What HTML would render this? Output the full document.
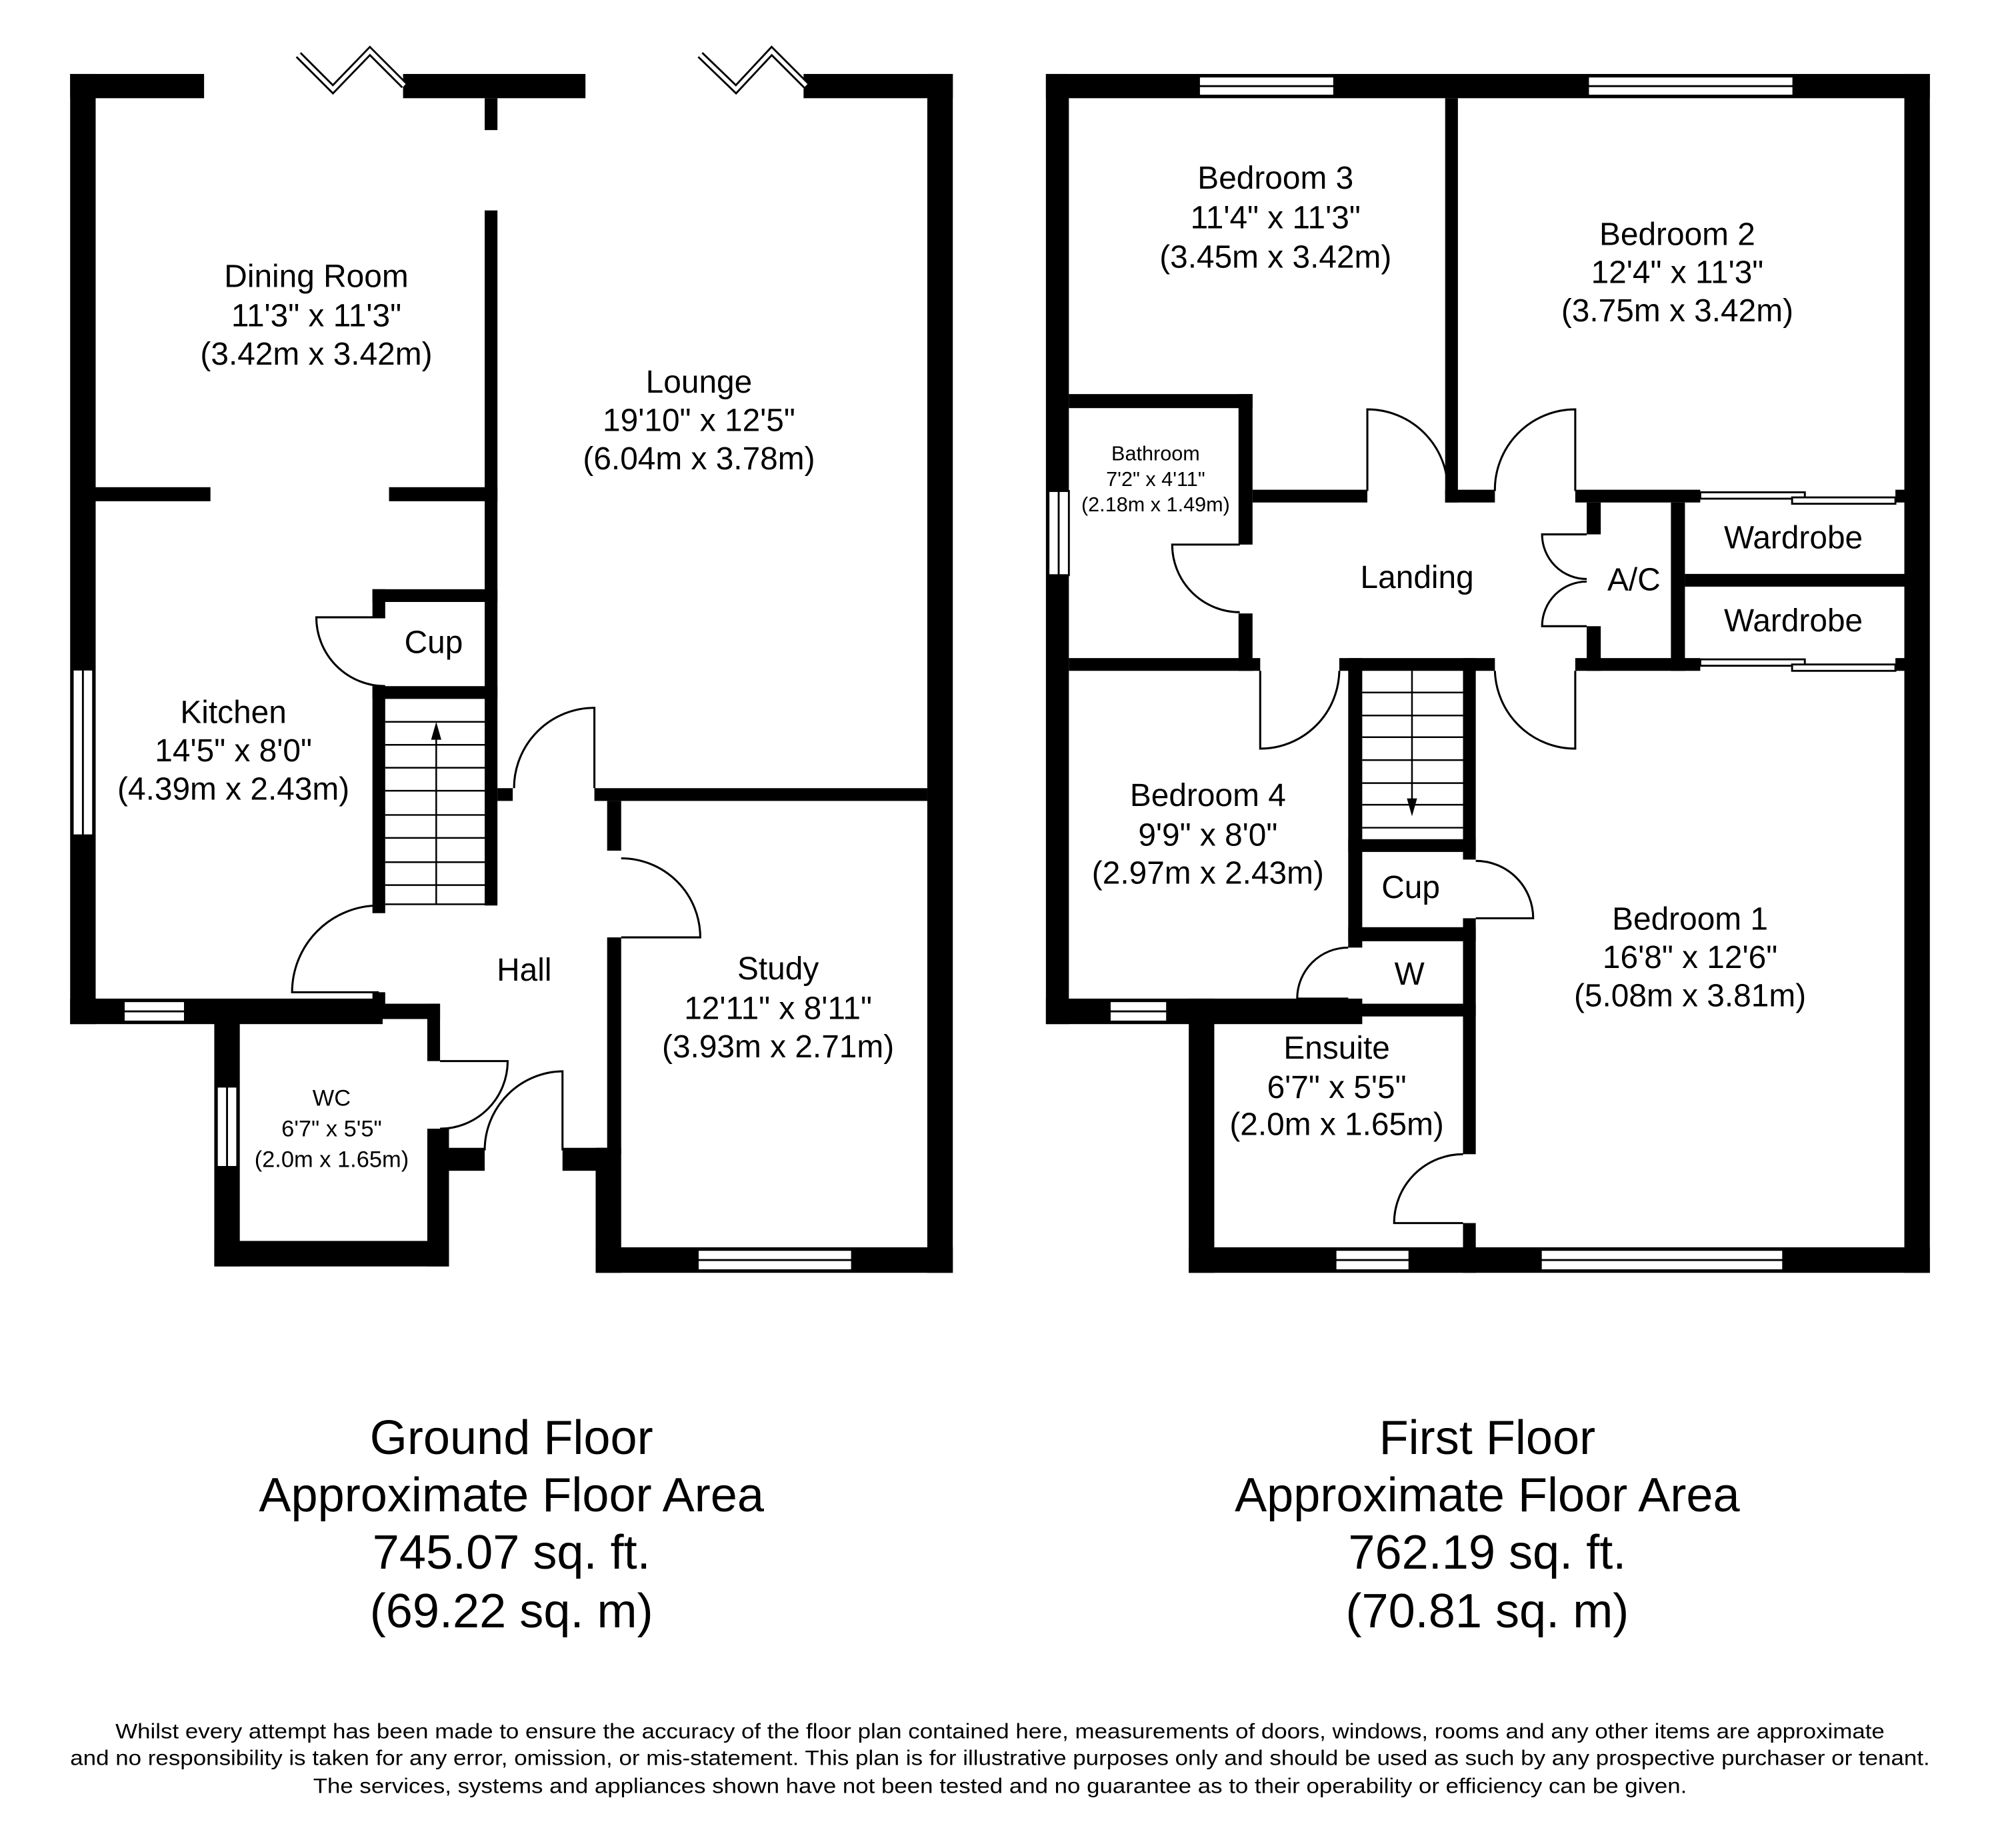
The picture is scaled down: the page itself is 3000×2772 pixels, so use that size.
<!DOCTYPE html>
<html><head><meta charset="utf-8"><style>
html,body{margin:0;padding:0;background:#fff;}
svg{display:block;}
text{font-family:"Liberation Sans",Arial,sans-serif;fill:#000;text-anchor:middle;}
.r{font-size:25px;}
.s{font-size:18px;}
.b{font-size:37.7px;}
.d{font-size:16.5px;}
.w{fill:#fff;stroke:#000;stroke-width:1.5;}
.dr{fill:none;stroke:#000;stroke-width:1.6;}
.st{stroke:#000;stroke-width:1.3;}
</style></head><body>
<svg width="3000" height="2772" viewBox="0 0 1568 1449" preserveAspectRatio="none" xmlns="http://www.w3.org/2000/svg">
<rect x="0" y="0" width="1568" height="1449" fill="#fff"/>
<g fill="#000">
<rect x="55" y="58" width="105" height="19"/>
<rect x="316" y="58" width="143" height="19"/>
<rect x="380" y="77" width="10" height="25"/>
<rect x="630" y="58" width="117" height="19"/>
<rect x="55" y="58" width="20" height="745"/>
<rect x="727" y="58" width="20" height="940"/>
<rect x="380" y="165" width="10" height="545"/>
<rect x="75" y="382" width="90" height="11"/>
<rect x="305" y="382" width="85" height="11"/>
<rect x="292" y="462" width="98" height="10"/>
<rect x="292" y="462" width="10" height="22"/>
<rect x="292" y="538" width="10" height="178"/>
<rect x="292" y="538" width="98" height="10"/>
<rect x="55" y="783" width="245" height="20"/>
<rect x="292" y="778" width="10" height="10"/>
<rect x="168" y="787" width="177" height="12"/>
<rect x="168" y="787" width="20" height="206"/>
<rect x="168" y="973" width="184" height="20"/>
<rect x="335" y="787" width="10" height="45"/>
<rect x="335" y="885" width="17" height="108"/>
<rect x="345" y="900" width="35" height="18"/>
<rect x="441" y="900" width="35" height="18"/>
<rect x="467" y="900" width="20" height="98"/>
<rect x="476" y="628" width="11" height="39"/>
<rect x="476" y="735" width="11" height="170"/>
<rect x="466" y="618" width="261" height="10"/>
<rect x="390" y="618" width="12" height="10"/>
<rect x="467" y="978" width="280" height="20"/>
<rect x="820" y="58" width="693" height="19"/>
<rect x="820" y="58" width="18" height="745"/>
<rect x="1493" y="58" width="20" height="940"/>
<rect x="1133" y="77" width="10" height="317"/>
<rect x="838" y="309" width="144" height="11"/>
<rect x="971" y="309" width="11" height="118"/>
<rect x="971" y="481" width="11" height="45"/>
<rect x="982" y="384" width="90" height="10"/>
<rect x="1133" y="384" width="39" height="10"/>
<rect x="1235" y="384" width="98" height="10"/>
<rect x="1486" y="384" width="7" height="10"/>
<rect x="1244" y="394" width="11" height="25"/>
<rect x="1244" y="491" width="11" height="35"/>
<rect x="1310" y="394" width="11" height="132"/>
<rect x="1321" y="450" width="172" height="10"/>
<rect x="838" y="516" width="150" height="10"/>
<rect x="1050" y="516" width="122" height="10"/>
<rect x="1235" y="516" width="98" height="10"/>
<rect x="1486" y="516" width="7" height="10"/>
<rect x="1057" y="516" width="11" height="227"/>
<rect x="1147" y="516" width="10" height="158"/>
<rect x="1147" y="720" width="10" height="185"/>
<rect x="1147" y="959" width="10" height="39"/>
<rect x="1057" y="658" width="100" height="10"/>
<rect x="1057" y="727" width="100" height="11"/>
<rect x="952" y="787" width="205" height="10"/>
<rect x="820" y="783" width="248" height="20"/>
<rect x="932" y="783" width="20" height="215"/>
<rect x="932" y="978" width="581" height="20"/>
</g>
<g class="w">
<rect x="57" y="525" width="16" height="130"/><line x1="65" y1="525" x2="65" y2="655"/>
<rect x="97" y="785" width="48" height="16"/><line x1="97" y1="793" x2="145" y2="793"/>
<rect x="170" y="852" width="16" height="63"/><line x1="178" y1="852" x2="178" y2="915"/>
<rect x="547" y="980" width="121" height="16"/><line x1="547" y1="988" x2="668" y2="988"/>
<rect x="940" y="60" width="106" height="15"/><line x1="940" y1="67.5" x2="1046" y2="67.5"/>
<rect x="1245" y="60" width="161" height="15"/><line x1="1245" y1="67.5" x2="1406" y2="67.5"/>
<rect x="822" y="385" width="16" height="66"/><line x1="830" y1="385" x2="830" y2="451"/>
<rect x="870" y="785" width="45" height="16"/><line x1="870" y1="793" x2="915" y2="793"/>
<rect x="1047" y="980" width="58" height="16"/><line x1="1047" y1="988" x2="1105" y2="988"/>
<rect x="1208" y="980" width="190" height="16"/><line x1="1208" y1="988" x2="1398" y2="988"/>
<rect x="1333" y="386" width="82" height="5"/><rect x="1405" y="390" width="81" height="5"/>
<rect x="1333" y="517" width="82" height="5"/><rect x="1405" y="521" width="81" height="5"/>
</g>
<polyline points="234,43 261,70 290,40 317,67" fill="none" stroke="#000" stroke-width="6"/>
<polyline points="234,43 261,70 290,40 317,67" fill="none" stroke="#fff" stroke-width="3"/>
<polyline points="549,43 577,70 605,40 632,67" fill="none" stroke="#000" stroke-width="6"/>
<polyline points="549,43 577,70 605,40 632,67" fill="none" stroke="#fff" stroke-width="3"/>
<g class="dr">
<path d="M302 484 L248 484 A54 54 0 0 0 302 538"/>
<path d="M297 778 L229 778 A68 68 0 0 1 297 710"/>
<path d="M345 832 L398 832 A53 53 0 0 1 345 885"/>
<path d="M441 902 L441 840 A62 62 0 0 0 380 902"/>
<path d="M487 735 L549 735 A62 62 0 0 0 487 673"/>
<path d="M466 618 L466 555 A63 63 0 0 0 403 618"/>
<path d="M972 427 L919 427 A53 53 0 0 0 972 480"/>
<path d="M1072 385 L1072 321 A63 63 0 0 1 1135 385"/>
<path d="M1235 385 L1235 321 A63 63 0 0 0 1172 385"/>
<path d="M1244 419 L1209 419 A35 35 0 0 0 1244 454"/>
<path d="M1244 491 L1209 491 A35 35 0 0 1 1244 456"/>
<path d="M988 526 L988 587 A62 62 0 0 0 1050 526"/>
<path d="M1235 526 L1235 587 A63 63 0 0 1 1172 526"/>
<path d="M1157 720 L1202 720 A45 45 0 0 0 1157 675"/>
<path d="M1057 783 L1017 783 A40 40 0 0 1 1057 743"/>
<path d="M1147 959 L1093 959 A54 54 0 0 1 1147 905"/>
</g>
<g class="st">
<line x1="302" y1="566" x2="380" y2="566"/><line x1="302" y1="584" x2="380" y2="584"/>
<line x1="302" y1="602" x2="380" y2="602"/><line x1="302" y1="620" x2="380" y2="620"/>
<line x1="302" y1="639" x2="380" y2="639"/><line x1="302" y1="657" x2="380" y2="657"/>
<line x1="302" y1="676" x2="380" y2="676"/><line x1="302" y1="694" x2="380" y2="694"/>
<line x1="302" y1="709" x2="380" y2="709"/>
<line x1="342" y1="575" x2="342" y2="709"/>
<line x1="1068" y1="543" x2="1147" y2="543"/><line x1="1068" y1="561" x2="1147" y2="561"/>
<line x1="1068" y1="578" x2="1147" y2="578"/><line x1="1068" y1="596" x2="1147" y2="596"/>
<line x1="1068" y1="614" x2="1147" y2="614"/><line x1="1068" y1="631" x2="1147" y2="631"/>
<line x1="1068" y1="649" x2="1147" y2="649"/>
<line x1="1107" y1="526" x2="1107" y2="630"/>
</g>
<polygon points="342,566 338,580 346,580" fill="#000"/>
<polygon points="1107,640 1103,626 1111,626" fill="#000"/>
<text class="r" x="248" y="225">Dining Room</text>
<text class="r" x="248" y="256">11'3" x 11'3"</text>
<text class="r" x="248" y="286">(3.42m x 3.42m)</text>
<text class="r" x="548" y="308">Lounge</text>
<text class="r" x="548" y="338">19'10" x 12'5"</text>
<text class="r" x="548" y="368">(6.04m x 3.78m)</text>
<text class="r" x="340" y="512">Cup</text>
<text class="r" x="183" y="567">Kitchen</text>
<text class="r" x="183" y="597">14'5" x 8'0"</text>
<text class="r" x="183" y="627">(4.39m x 2.43m)</text>
<text class="r" x="411" y="769">Hall</text>
<text class="r" x="610" y="768">Study</text>
<text class="r" x="610" y="799">12'11" x 8'11"</text>
<text class="r" x="610" y="829">(3.93m x 2.71m)</text>
<text class="s" x="260" y="867">WC</text>
<text class="s" x="260" y="891">6'7" x 5'5"</text>
<text class="s" x="260" y="915">(2.0m x 1.65m)</text>
<text class="r" x="1000" y="148">Bedroom 3</text>
<text class="r" x="1000" y="179">11'4" x 11'3"</text>
<text class="r" x="1000" y="210">(3.45m x 3.42m)</text>
<text class="r" x="1315" y="192">Bedroom 2</text>
<text class="r" x="1315" y="222">12'4" x 11'3"</text>
<text class="r" x="1315" y="252">(3.75m x 3.42m)</text>
<text x="906" y="361" style="font-size:16px">Bathroom</text>
<text x="906" y="381" style="font-size:16px">7'2" x 4'11"</text>
<text x="906" y="401" style="font-size:16px">(2.18m x 1.49m)</text>
<text class="r" x="1111" y="461">Landing</text>
<text class="r" x="1281" y="463">A/C</text>
<text class="r" x="1406" y="430">Wardrobe</text>
<text class="r" x="1406" y="495">Wardrobe</text>
<text class="r" x="947" y="632">Bedroom 4</text>
<text class="r" x="947" y="663">9'9" x 8'0"</text>
<text class="r" x="947" y="693">(2.97m x 2.43m)</text>
<text class="r" x="1106" y="704">Cup</text>
<text class="r" x="1105" y="772">W</text>
<text class="r" x="1325" y="729">Bedroom 1</text>
<text class="r" x="1325" y="759">16'8" x 12'6"</text>
<text class="r" x="1325" y="789">(5.08m x 3.81m)</text>
<text class="r" x="1048" y="830">Ensuite</text>
<text class="r" x="1048" y="861">6'7" x 5'5"</text>
<text class="r" x="1048" y="890">(2.0m x 1.65m)</text>
<text class="b" x="401" y="1140">Ground Floor</text>
<text class="b" x="401" y="1185">Approximate Floor Area</text>
<text class="b" x="401" y="1230">745.07 sq. ft.</text>
<text class="b" x="401" y="1276">(69.22 sq. m)</text>
<text class="b" x="1166" y="1140">First Floor</text>
<text class="b" x="1166" y="1185">Approximate Floor Area</text>
<text class="b" x="1166" y="1230">762.19 sq. ft.</text>
<text class="b" x="1166" y="1276">(70.81 sq. m)</text>
<text class="d" x="784" y="1363" textLength="1387" lengthAdjust="spacingAndGlyphs">Whilst every attempt has been made to ensure the accuracy of the floor plan contained here, measurements of doors, windows, rooms and any other items are approximate</text>
<text class="d" x="784" y="1384" textLength="1458" lengthAdjust="spacingAndGlyphs">and no responsibility is taken for any error, omission, or mis-statement. This plan is for illustrative purposes only and should be used as such by any prospective purchaser or tenant.</text>
<text class="d" x="784" y="1406" textLength="1077" lengthAdjust="spacingAndGlyphs">The services, systems and appliances shown have not been tested and no guarantee as to their operability or efficiency can be given.</text>
</svg>
</body></html>
